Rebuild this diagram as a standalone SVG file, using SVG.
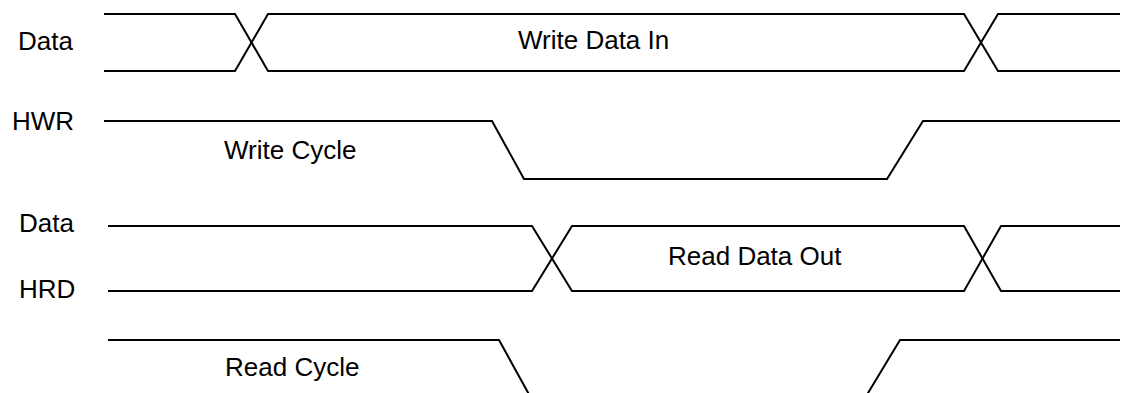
<svg xmlns="http://www.w3.org/2000/svg" width="1127" height="393" viewBox="0 0 1127 393">
<style>
.sig{fill:none;stroke:#000;stroke-width:2;stroke-linejoin:miter}
.lbl{font-family:"Liberation Sans",Arial,sans-serif;font-size:26px;fill:#000}
</style>
<rect width="1127" height="393" fill="#fff"/>
<g id="labels">
<text class="lbl" x="18" y="50">Data</text>
<text class="lbl" x="12" y="130">HWR</text>
<text class="lbl" x="19" y="232">Data</text>
<text class="lbl" x="19" y="298">HRD</text>
</g>
<g id="connectors">
<g id="write-data">
<polyline class="sig" points="104,14 235,14 268,71 964,71 998,14 1120,14"/>
<polyline class="sig" points="104,71 235,71 268,14 964,14 998,71 1120,71"/>
</g>
<g id="hwr">
<polyline class="sig" points="104,121 492,121 524,179 887,179 923,121 1120,121"/>
</g>
<g id="read-data">
<polyline class="sig" points="108,226 532,226 572,291 964,291 1001,226 1120,226"/>
<polyline class="sig" points="108,291 532,291 572,226 964,226 1001,291 1120,291"/>
</g>
<g id="hrd">
<polyline class="sig" points="108,340 499,340 531,398"/>
<polyline class="sig" points="865,398 900,340 1120,340"/>
</g>
</g>
<g id="write-data-in"><text class="lbl" x="518" y="49">Write Data In</text></g>
<g id="write-cycle"><text class="lbl" x="224" y="159">Write Cycle</text></g>
<g id="read-data-out"><text class="lbl" x="668" y="265">Read Data Out</text></g>
<g id="read-cycle"><text class="lbl" x="225" y="376">Read Cycle</text></g>
</svg>
